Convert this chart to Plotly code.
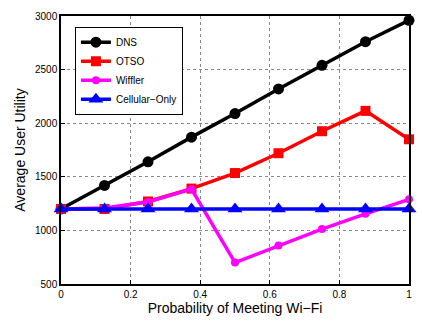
import plotly.graph_objects as go

x = [0, 0.125, 0.25, 0.375, 0.5, 0.625, 0.75, 0.875, 1.0]
dns = [1200, 1420, 1640, 1870, 2090, 2320, 2540, 2760, 2960]
otso = [1200, 1200, 1270, 1390, 1535, 1720, 1925, 2115, 1850]
wiffler = [1200, 1210, 1265, 1385, 700, 860, 1012, 1155, 1290]
cellular = [1200, 1200, 1200, 1200, 1200, 1200, 1200, 1200, 1200]

xticks = [0, 0.2, 0.4, 0.6, 0.8, 1]
yticks = [500, 1000, 1500, 2000, 2500, 3000]

fig = go.Figure()
fig.add_trace(go.Scatter(x=x, y=dns, name="DNS", mode="lines+markers", cliponaxis=False,
                         line=dict(color="black", width=3.5),
                         marker=dict(symbol="circle", size=11, color="black")))
fig.add_trace(go.Scatter(x=x, y=otso, name="OTSO", mode="lines+markers", cliponaxis=False,
                         line=dict(color="red", width=3.5),
                         marker=dict(symbol="square", size=10, color="red")))
fig.add_trace(go.Scatter(x=x, y=wiffler, name="Wiffler", mode="lines+markers", cliponaxis=False,
                         line=dict(color="magenta", width=3.5),
                         marker=dict(symbol="circle", size=8, color="magenta")))
fig.add_trace(go.Scatter(x=x, y=cellular, name="Cellular\u2212Only", mode="lines+markers", cliponaxis=False,
                         line=dict(color="blue", width=3.5),
                         marker=dict(symbol="triangle-up", size=13, color="blue")))

axis_common = dict(showline=True, linecolor="black", linewidth=1.5, mirror=True,
                   ticks="inside", ticklen=4, tickcolor="black",
                   showgrid=True, gridcolor="#888", griddash="dot", gridwidth=1,
                   zeroline=False, tickfont=dict(family="Liberation Sans", size=10, color="black"))

fig.update_xaxes(range=[0, 1], tickvals=xticks, ticktext=[str(v) for v in xticks],
                 title=dict(text="Probability of Meeting Wi\u2212Fi",
                            font=dict(family="Liberation Sans", size=14, color="black"),
                            standoff=2),
                 **axis_common)
fig.update_yaxes(range=[500, 3000], tickvals=yticks,
                 title=dict(text="Average User Utility",
                            font=dict(family="Liberation Sans", size=14, color="black"),
                            standoff=6),
                 **axis_common)

fig.update_layout(
    width=422, height=322,
    margin=dict(l=61, r=12, t=10, b=36),
    paper_bgcolor="white", plot_bgcolor="white",
    showlegend=True,
    legend=dict(x=0.04, y=0.96, xanchor="left", yanchor="top",
                bgcolor="white", bordercolor="black", borderwidth=1,
                font=dict(family="Liberation Sans", size=10, color="black"),
                tracegroupgap=0, itemwidth=30),
)

fig.write_html("out.html", config={"displayModeBar": False},
               post_script="document.body.style.margin='0';")
